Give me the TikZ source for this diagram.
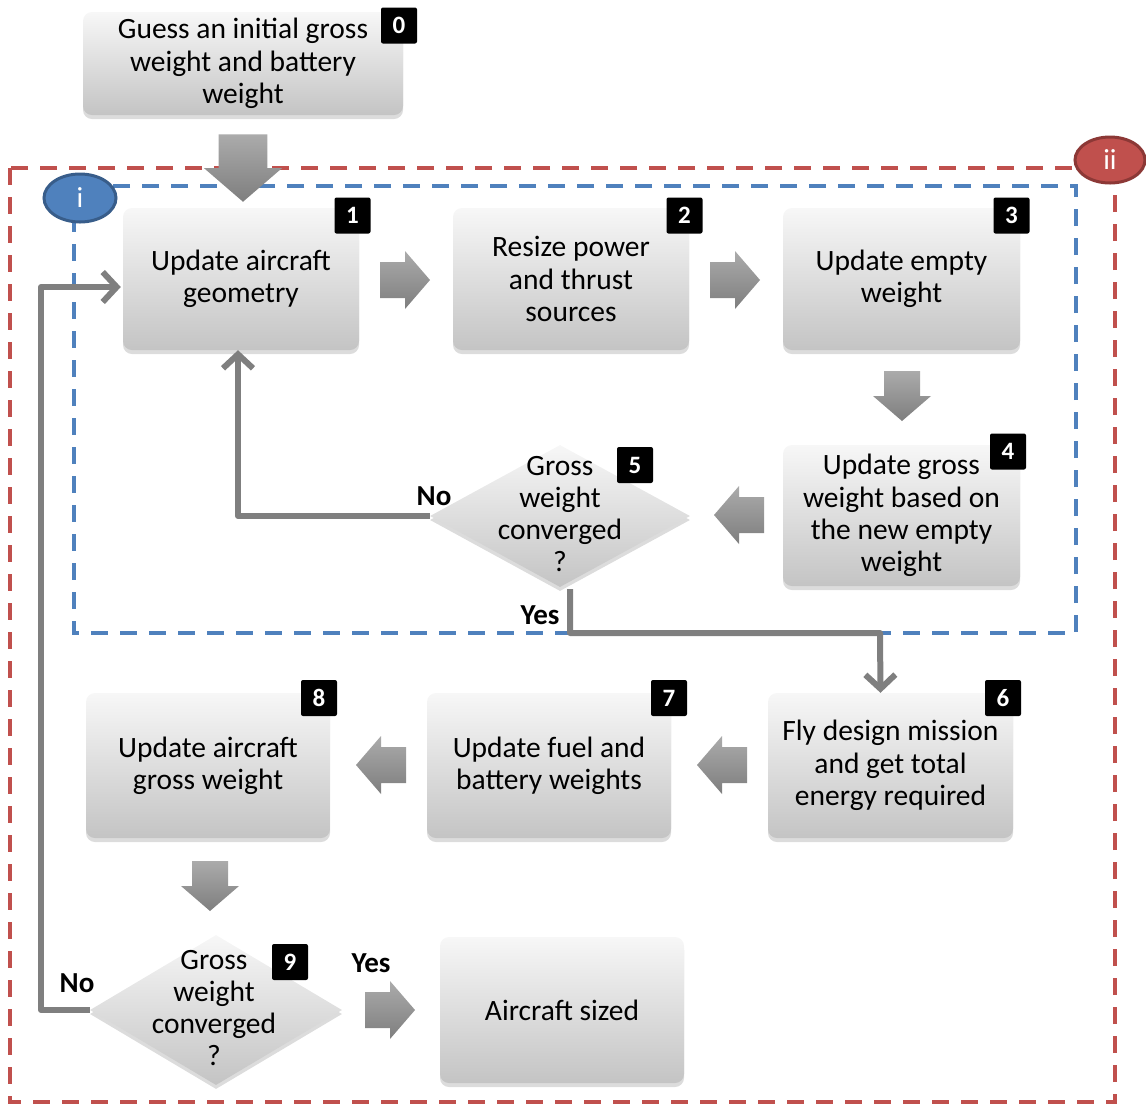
\documentclass[tikz,border=0pt]{standalone}
\usepackage{fontspec}
\setmainfont{Carlito}
\usetikzlibrary{shapes.geometric,arrows.meta,shadows}
\definecolor{boxtop}{HTML}{F7F7F7}
\definecolor{boxbot}{HTML}{C4C4C4}
\definecolor{arrlight}{HTML}{ABABAB}
\definecolor{arrdark}{HTML}{7E7E7E}
\definecolor{conn}{HTML}{7F7F7F}
\definecolor{redloop}{HTML}{C0504D}
\definecolor{rededge}{HTML}{8C3836}
\definecolor{blueloop}{HTML}{4F81BD}
\definecolor{blueedge}{HTML}{385D8A}
\tikzset{
  stepbox/.style={rectangle, rounded corners=9pt, top color=boxtop, bottom color=boxbot,
    draw=none, align=center, inner sep=0pt,
    drop shadow={opacity=0.28, shadow xshift=0pt, shadow yshift=-4pt},
    font=\fontsize{29.5}{32.3}\selectfont},
  decision/.style={diamond, top color=boxtop, bottom color=boxbot, draw=none, inner sep=0pt,
    drop shadow={opacity=0.28, shadow xshift=0pt, shadow yshift=-4pt}},
  dtext/.style={align=center, font=\fontsize{29.5}{32.3}\selectfont},
  badge/.style={rectangle, rounded corners=2pt, fill=black, text=white, minimum size=36pt,
    inner sep=0pt, font=\bfseries\fontsize{25}{28}\selectfont},
  answer/.style={font=\bfseries\fontsize{29}{32}\selectfont},
  link/.style={draw=conn, line width=6pt, line join=round,
    -{Straight Barb[length=14pt,width=30pt,line width=6pt]}},
  loopframe/.style={line width=3.5pt, dash pattern=on 17pt off 12pt},
  looptag/.style={ellipse, line width=3pt, text=white, inner sep=0pt,
    font=\fontsize{29}{32}\selectfont},
  barrow/.pic={
    \shade[top color=arrlight, bottom color=arrdark]
      (-25,-18) -- (0,-18) -- (0,-29) -- (25,0) -- (0,29) -- (0,18) -- (-25,18) -- cycle;
  },
}
\begin{document}
\begin{tikzpicture}[x=1pt, y=-1pt]
\useasboundingbox (0,0) rectangle (1146,1104);

% iteration loops
\draw[loopframe, redloop] (10,168) rectangle (1115,1102);
\draw[loopframe, blueloop] (74,186) rectangle (1076,633);

% process steps
\node[stepbox, minimum width=320pt, minimum height=103pt] (b0) at (243,63.5)
  {Guess an initial gross\\weight and battery\\weight};
\node[stepbox, minimum width=236pt, minimum height=142pt] (b1) at (241,279)
  {Update aircraft\\geometry};
\node[stepbox, minimum width=236pt, minimum height=142pt] (b2) at (571,279)
  {Resize power\\and thrust\\sources};
\node[stepbox, minimum width=237pt, minimum height=142pt] (b3) at (901.5,279)
  {Update empty\\weight};
\node[stepbox, minimum width=237pt, minimum height=141pt] (b4) at (901.5,515.5)
  {Update gross\\weight based on\\the new empty\\weight};
\node[decision, minimum width=260pt, minimum height=142pt] (d5) at (560,516) {};
\node[dtext] (t5) at (560,514) {Gross\\weight\\converged\\?};
\node[stepbox, minimum width=245pt, minimum height=145pt] (b6) at (890.5,765.5)
  {Fly design mission\\and get total\\energy required};
\node[stepbox, minimum width=244pt, minimum height=145pt] (b7) at (549,765.5)
  {Update fuel and\\battery weights};
\node[stepbox, minimum width=244pt, minimum height=145pt] (b8) at (208,765.5)
  {Update aircraft\\gross weight};
\node[decision, minimum width=252pt, minimum height=150pt] (d9) at (216,1010) {};
\node[dtext] (t9) at (214,1008) {Gross\\weight\\converged\\?};
\node[stepbox, minimum width=244pt, minimum height=146pt] (bs) at (562,1010)
  {Aircraft sized};

% step numbers
\node[badge] (n0) at (399,25.5) {0};
\node[badge] (n1) at (352.5,215.5) {1};
\node[badge] (n2) at (684.5,215.5) {2};
\node[badge] (n3) at (1011.5,215.5) {3};
\node[badge] (n4) at (1008,451.5) {4};
\node[badge] (n5) at (635,465) {5};
\node[badge] (n6) at (1003,698) {6};
\node[badge] (n7) at (669,698) {7};
\node[badge] (n8) at (319,698) {8};
\node[badge] (n9) at (290,962) {9};

% block arrows between steps
\pic (a01) [rotate=-90, scale=1.35] at (243,168) {barrow};
\pic (a12) at (405,280) {barrow};
\pic (a23) at (735,280) {barrow};
\pic (a34) [rotate=-90] at (902,396) {barrow};
\pic (a45) [rotate=180] at (739,515) {barrow};
\pic (a67) [rotate=180] at (722,765) {barrow};
\pic (a78) [rotate=180] at (381,765) {barrow};
\pic (a89) [rotate=-90] at (210,886) {barrow};
\pic (a9s) at (390,1010) {barrow};

% decision branches
\coordinate (c5) at ([xshift=10pt]d5.south);
\draw[link] (d5.west) -| ([xshift=-3pt]b1.south);
\draw[link] ([yshift=-2pt]c5) |- (880,633) -- ([xshift=-10pt]b6.north);
\coordinate (c9) at (41,1010);
\draw[link] (d9.west) -- (c9) |- ([xshift=-2pt, yshift=-8pt]b1.west);

\node[answer] (no5) at (434,496) {No};
\node[answer] (yes5) at (540,615) {Yes};
\node[answer] (no9) at (77,983) {No};
\node[answer] (yes9) at (371,963) {Yes};

% loop tags
\node[looptag, fill=blueloop, draw=blueedge, minimum width=72pt, minimum height=48pt] (li) at (80,198) {i};
\node[looptag, fill=redloop, draw=rededge, minimum width=70pt, minimum height=46pt] (lii) at (1110,160) {ii};
\end{tikzpicture}
\end{document}
